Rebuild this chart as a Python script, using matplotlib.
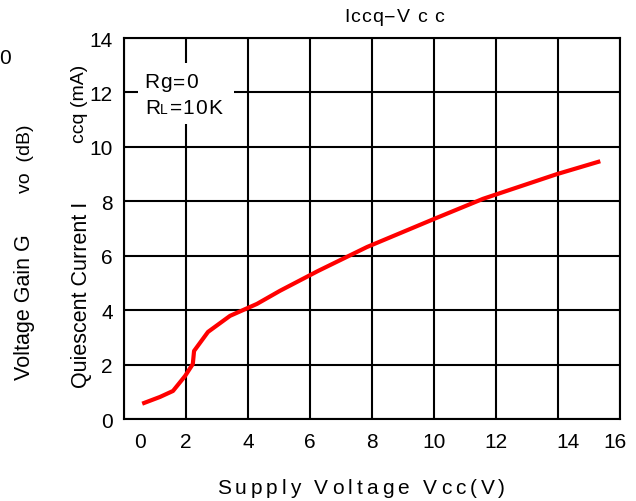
import matplotlib
matplotlib.use("Agg")
import matplotlib.pyplot as plt
import matplotlib.transforms as mtransforms
from matplotlib.patches import Rectangle

plt.rcParams['font.family'] = ['Liberation Sans', 'DejaVu Sans']

vcc = [0.65, 1.16, 1.58, 1.97, 2.22, 2.26, 2.71, 3.42, 4.29, 5.03, 6.26, 7.84, 10.0, 11.58, 13.97, 15.3]
iccq = [0.59, 0.81, 1.03, 1.58, 2.02, 2.5, 3.2, 3.79, 4.23, 4.71, 5.44, 6.32, 7.35, 8.09, 9.0, 9.45]
xticks = [0, 2, 4, 6, 8, 10, 12, 14, 16]
yticks = [0, 2, 4, 6, 8, 10, 12, 14]

W, H = 636, 502
fig = plt.figure(figsize=(W/100, H/100), dpi=100)
ax = fig.add_axes([124/W, 1-420/H, (620-124)/W, (420-39)/H])
ax.set_xlim(0, 16)
ax.set_ylim(0, 14)
ax.set_xticks(xticks)
ax.set_yticks(yticks)
ax.set_xticklabels([str(t) for t in xticks], fontsize=15)
ax.set_yticklabels([str(t) for t in yticks], fontsize=15)
ax.tick_params(axis='y', length=0, pad=8)
ax.tick_params(axis='x', length=0, pad=9)
ax.grid(True, color='black', lw=1.5)
for s in ax.spines.values():
    s.set_linewidth(1.5)
ax.set_axisbelow(True)

offs = {0: 16, 14: 10, 16: -5}
for lab, t in zip(ax.get_xticklabels(), xticks):
    if t in offs:
        lab.set_transform(lab.get_transform() + mtransforms.ScaledTranslation(offs[t]/100, 0, fig.dpi_scale_trans))

ax.plot(vcc, iccq, color='red', lw=3, zorder=3)

# white box behind annotation (interrupts grid lines)
ax.add_patch(Rectangle((138/W, 1-125/H), 96/W, 61/H, transform=fig.transFigure,
                       facecolor='white', edgecolor='none', zorder=2.5, clip_on=False))

renderer = fig.canvas.get_renderer()

def char_width(ch, size):
    t1 = fig.text(0, 0, "a" + ch, fontsize=size)
    t2 = fig.text(0, 0, "a", fontsize=size)
    w = t1.get_window_extent(renderer).width - t2.get_window_extent(renderer).width
    t1.remove(); t2.remove()
    return w

def tracked(cx, cy, s, size, track, **kw):
    widths = [char_width(c, size) for c in s]
    total = sum(widths) + track * (len(s) - 1)
    x = cx - total / 2
    for c, w in zip(s, widths):
        if c != ' ':
            fig.text(x / W, 1 - cy / H, c, fontsize=size, va='center', ha='left', **kw)
        x += w + track

# annotation text
tracked(171, 83, "Rg=0", 15, 1.0, zorder=5)
fig.text(145/W, 1-108/H, "R", fontsize=15, va='center', ha='left', zorder=5)
fig.text(160/W, 1-110/H, "L", fontsize=10, va='center', ha='left', zorder=5)
tracked(196, 108, "=10K", 15, 1.0, zorder=5)

# title
tracked(394, 18, "Iccq\u2212V c c", 14, 1.0)

# x label
tracked(361, 489, "Supply Voltage Vcc(V)", 15, 4.0)

# y label
fig.text(82/W, 1-295/H, "Quiescent Current I", fontsize=15.5, rotation=90, va='center', ha='center')
fig.text(80/W, 1-104/H, "ccq (mA)", fontsize=14, rotation=90, va='center', ha='center')

# leftover labels from neighboring chart
fig.text(25/W, 1-307/H, "Voltage Gain G", fontsize=15.5, rotation=90, va='center', ha='center')
fig.text(25/W, 1-159/H, "vo  (dB)", fontsize=14, rotation=90, va='center', ha='center')
fig.text(5/W, 1-58/H, "0", fontsize=15, va='center', ha='center')

fig.savefig("out.png", dpi=100)
